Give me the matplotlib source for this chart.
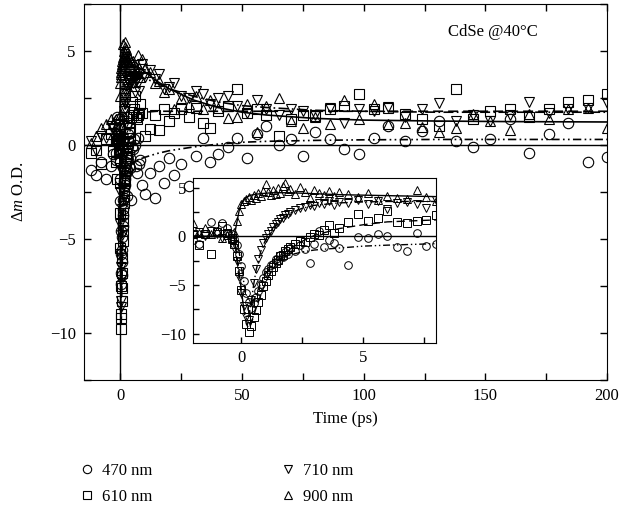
import matplotlib
matplotlib.use("Agg")
import matplotlib.pyplot as plt
from matplotlib.ticker import MultipleLocator

plt.rcParams["font.family"] = ["Liberation Serif", "DejaVu Serif"]
plt.rcParams["mathtext.fontset"] = "custom"
plt.rcParams["mathtext.rm"] = "Liberation Serif"
plt.rcParams["mathtext.it"] = "Liberation Serif:italic"
plt.rcParams["font.size"] = 12

# time axis of the measurement (ps)
t = [-12, -10, -8, -6, -4, -3,
     -2.0, -1.75, -1.5, -1.25, -1.0, -0.8, -0.6, -0.4, -0.3, -0.2, -0.1,
     0.0, 0.1, 0.2, 0.3, 0.4, 0.5, 0.6, 0.7, 0.8, 0.9, 1.0,
     1.1, 1.2, 1.3, 1.4, 1.5, 1.6, 1.7, 1.8, 1.9, 2.0,
     2.2, 2.4, 2.6, 2.8, 3.0, 3.2, 3.4, 3.6, 3.8, 4.0,
     4.4, 4.8, 5.2, 5.6, 6.0, 6.4, 6.8, 7.2, 7.6, 8.0,
     9, 10, 12, 14, 16, 18, 20, 22, 25, 28, 31, 34, 37, 40, 44, 48, 52, 56, 60, 65,
     70, 75, 80, 86, 92, 98, 104, 110, 117, 124, 131, 138, 145, 152, 160, 168, 176, 184, 192, 200]

od_470 = [-1.3, -1.6, -0.9, -1.8, -1.1, -0.5,
          -0.4, -0.8, 0.3, 1.5, 0.6, 1.4, 0.9, 0.2, -0.3, -0.9, -1.8,
          -3.0, -4.6, -5.8, -6.8, -7.4, -6.9, -6.2, -5.6, -4.9, -4.3, -3.7,
          -3.4, -2.9, -2.8, -2.3, -2.5, -1.9, -2.1, -1.6, -1.8, -1.2,
          -1.5, -0.9, -1.3, -2.7, -0.8, 0.6, -1.1, -0.4, -0.7, -1.2,
          -2.9, -0.1, -0.2, 0.3, 0.0, -1.1, -1.5, 0.4, -1.0, -0.8,
          -2.1, -2.6, -1.5, -2.8, -1.1, -2.0, -0.7, -1.6, -1.0, -2.2, -0.6, 0.4, -0.9, -0.5, -0.1, 0.4,
          -0.7, 0.6, 1.0, 0.0, 0.3, -0.6, 0.7, 0.3, -0.2, -0.5, 0.4, 1.0, 0.2, 0.75, 1.3, 0.2,
          -0.1, 0.3, 1.4, -0.4, 0.6, 1.2, -0.9, -0.65]

od_610 = [-0.4, -0.25, -1.0, 0.3, 0.6, -0.3,
          0.3, -0.9, 0.2, -1.8, 0.5, 1.1, 0.4, -0.2, -0.8, -2.0, -3.6,
          -5.5, -7.5, -9.0, -9.8, -9.2, -8.3, -7.6, -6.8, -6.0, -5.1, -4.6,
          -4.0, -3.6, -3.1, -2.7, -2.4, -2.0, -1.9, -1.5, -1.3, -1.1,
          -0.8, -0.5, -0.6, -0.1, 0.2, 0.1, 0.7, 1.2, 0.4, 0.9,
          1.5, 2.3, 1.6, 1.9, 2.6, 1.5, 1.4, 1.6, 1.7, 2.2,
          1.7, 0.5, 0.85, 1.6, 0.8, 1.9, 1.3, 1.7, 1.9, 1.5, 2.0, 1.2, 0.9, 1.8, 2.1, 3.0,
          1.7, 1.9, 1.6, 0.5, 1.4, 1.6, 1.55, 1.9, 2.1, 2.7, 1.9, 2.0, 1.65, 1.4, 1.0, 3.0,
          1.4, 1.8, 1.9, 1.5, 1.9, 2.3, 2.4, 2.7]

od_710 = [0.2, -0.3, 0.5, 0.4, 1.0, 0.9,
          0.1, 0.5, 0.0, 0.6, 0.2, -0.2, 0.3, -0.4, -1.2, -2.5, -4.2,
          -5.8, -7.2, -8.3, -8.6, -6.5, -4.8, -3.4, -2.3, -1.4, -0.7, -0.2,
          0.3, 0.6, 1.0, 1.3, 1.5, 1.8, 1.9, 2.2, 2.3, 2.5,
          2.7, 2.9, 3.0, 3.2, 3.1, 3.4, 3.3, 3.6, 3.2, 3.5,
          3.4, 3.7, 3.3, 3.6, 2.8, 3.4, 3.5, 3.3, 2.9, 3.8,
          4.3, 3.6, 4.0, 3.5, 3.8, 3.0, 3.1, 3.3, 2.6, 2.5, 2.9, 2.7, 2.2, 2.5, 2.6, 2.1,
          1.7, 2.4, 1.9, 1.6, 1.9, 1.8, 1.6, 2.0, 1.2, 1.9, 1.8, 2.05, 1.5, 1.9, 2.25, 1.3,
          1.6, 1.3, 1.6, 2.3, 1.7, 1.9, 1.95, 2.25]

od_900 = [0.1, 0.5, 0.9, 1.1, 1.4, 1.2,
          1.4, 0.4, 0.9, 0.2, 0.6, -0.2, 0.1, -0.3, 0.5, 1.6, 2.6,
          3.3, 3.6, 3.9, 4.1, 3.8, 4.3, 4.0, 4.5, 4.2, 4.7, 5.4,
          4.6, 4.3, 4.8, 4.4, 5.0, 4.5, 5.2, 5.5, 4.7, 4.9,
          4.4, 5.1, 4.6, 4.0, 4.8, 4.5, 4.3, 4.7, 4.2, 4.6,
          4.4, 4.1, 4.5, 3.8, 4.2, 4.0, 3.9, 4.8, 4.1, 3.6,
          4.6, 4.1, 3.9, 3.3, 3.4, 2.8, 3.0, 1.9, 2.5, 2.2, 2.6, 1.9, 2.4, 1.95, 1.45, 1.5,
          2.2, 0.7, 2.1, 2.5, 1.3, 0.9, 1.5, 1.1, 2.4, 1.4, 2.2, 1.1, 1.2, 0.95, 0.7, 0.9,
          1.65, 1.3, 0.8, 1.65, 1.4, 1.9, 1.95, 0.9]

# fitted curves
t_fit = [-2, -0.5, -0.3, -0.2, -0.1,
         0.0, 0.1, 0.2, 0.3, 0.4, 0.5, 0.6, 0.8,
         1.0, 1.3, 1.6, 2.0, 2.5, 3.0,
         4.0, 5.0, 6.0, 8.0,
         10, 15, 20, 30, 40, 50, 60, 80, 100, 130, 160, 200]
fit_470 = [0, 0, -0.1, -0.5, -1.5,
           -3.2, -4.8, -6.0, -6.8, -7.0, -6.6, -6.0, -4.8,
           -3.8, -2.9, -2.3, -1.9, -1.6, -1.4,
           -1.2, -1.0, -0.9, -0.75,
           -0.65, -0.45, -0.3, -0.1, 0.05, 0.15, 0.2, 0.25, 0.28, 0.3, 0.3, 0.3]
fit_610 = [0, 0, 0, -1.8, -3.6,
           -5.6, -7.6, -9.0, -9.5, -9.0, -8.2, -7.4, -6.0,
           -4.7, -3.3, -2.3, -1.3, -0.5, 0.1,
           0.8, 1.2, 1.5, 1.7,
           1.75, 1.8, 1.8, 1.8, 1.8, 1.8, 1.8, 1.8, 1.8, 1.8, 1.8, 1.8]
fit_710 = [0, 0, 0, -2.2, -4.3,
           -6.0, -7.4, -8.2, -8.2, -6.8, -5.0, -3.5, -1.5,
           -0.3, 0.9, 1.7, 2.4, 2.9, 3.2,
           3.45, 3.55, 3.6, 3.6,
           3.55, 3.3, 3.0, 2.6, 2.3, 2.1, 2.0, 1.85, 1.8, 1.75, 1.75, 1.75]
fit_900 = [0, 0, 0, 1.3, 2.6,
           3.4, 3.8, 4.0, 4.15, 4.25, 4.3, 4.35, 4.4,
           4.45, 4.5, 4.5, 4.5, 4.45, 4.4,
           4.3, 4.25, 4.2, 4.1,
           3.9, 3.4, 3.0, 2.4, 2.0, 1.75, 1.6, 1.42, 1.33, 1.28, 1.25, 1.23]

series = [("470 nm", od_470, fit_470, "o", (0, (5, 2, 1, 2, 1, 2))),
          ("610 nm", od_610, fit_610, "s", (0, (6, 3))),
          ("710 nm", od_710, fit_710, "v", (0, (6, 2, 1, 2))),
          ("900 nm", od_900, fit_900, "^", "-")]

fig = plt.figure(figsize=(6.22, 5.24), dpi=100)
ax = fig.add_axes([0.135, 0.275, 0.841, 0.717])

handles = []
for label, y, yf, m, ls in series:
    h, = ax.plot(t, y, ls="none", marker=m, ms=7.5, mfc="none", mec="k", mew=0.8, label=label)
    handles.append(h)
for label, y, yf, m, ls in series:
    ax.plot(t_fit, yf, color="k", lw=1.2, ls=ls)
ax.axhline(0, color="k", lw=1)
ax.axvline(0, color="k", lw=1)

ax.set_xlim(-15, 200)
ax.set_ylim(-12.5, 7.5)
ax.xaxis.set_major_locator(MultipleLocator(50))
ax.xaxis.set_minor_locator(MultipleLocator(25))
ax.yaxis.set_major_locator(MultipleLocator(5))
ax.yaxis.set_minor_locator(MultipleLocator(2.5))
ax.tick_params(which="both", direction="in", top=True, right=True, length=5, width=1, pad=6)
ax.set_xlabel("Time (ps)", labelpad=5)
ax.set_ylabel(r"$\Delta m$ O.D.", labelpad=16)
ax.text(153, 6.0, "CdSe @40°C", ha="center", va="center")

# inset: first few picoseconds
axi = fig.add_axes([0.310, 0.345, 0.391, 0.315])
for label, y, yf, m, ls in series:
    axi.plot(t, y, ls="none", marker=m, ms=5.5, mfc="none", mec="k", mew=0.7)
for label, y, yf, m, ls in series:
    axi.plot(t_fit, yf, color="k", lw=1.0, ls=ls)
axi.axhline(0, color="k", lw=1)
axi.set_xlim(-2, 8)
axi.set_ylim(-11, 6)
axi.xaxis.set_major_locator(MultipleLocator(5))
axi.xaxis.set_minor_locator(MultipleLocator(2.5))
axi.yaxis.set_major_locator(MultipleLocator(5))
axi.yaxis.set_minor_locator(MultipleLocator(2.5))
axi.tick_params(which="both", direction="in", length=4, width=1, pad=5)

fig.legend(handles=handles, ncol=2, frameon=False, loc="upper left",
           bbox_to_anchor=(0.10, 0.145), columnspacing=7.5, handletextpad=0.3,
           handlelength=1.2, markerscale=0.8, labelspacing=0.6)

fig.savefig("out.png", dpi=100)
